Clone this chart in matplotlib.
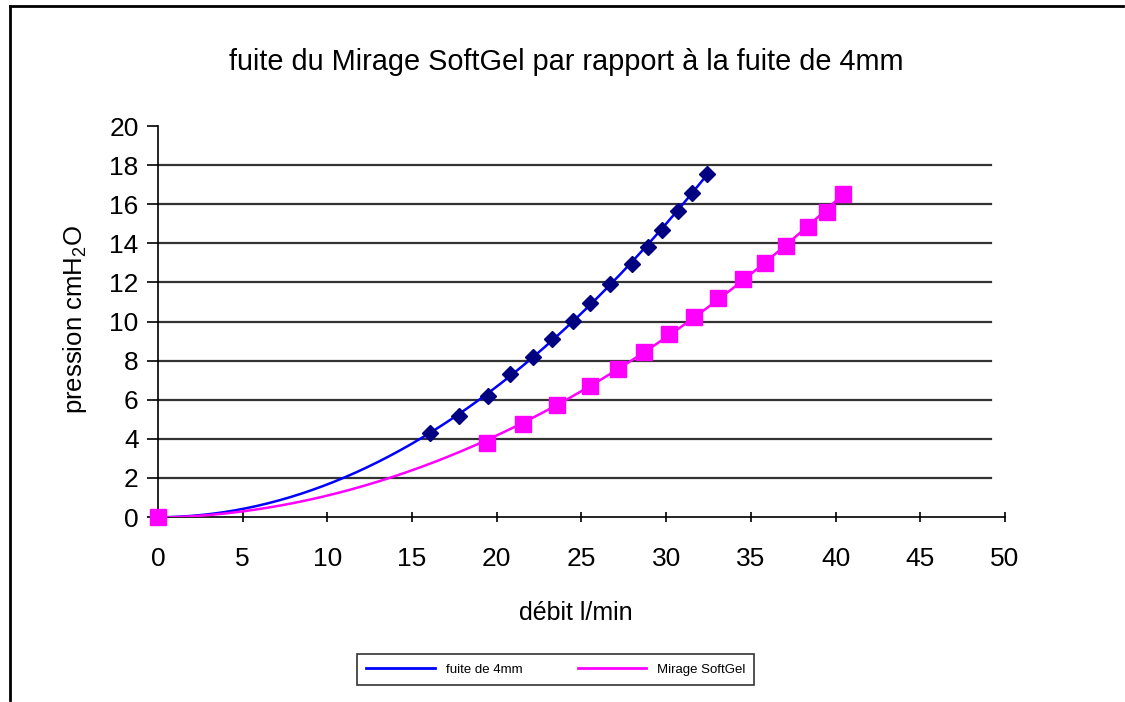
import numpy as np
import matplotlib
matplotlib.use('Agg')
import matplotlib.pyplot as plt
from matplotlib.lines import Line2D

plt.rcParams['font.family'] = ['Liberation Sans', 'DejaVu Sans']
plt.rcParams['mathtext.fontset'] = 'custom'
plt.rcParams['mathtext.rm'] = 'Liberation Sans'

# data (débit l/min, pression cmH2O)
debit_4mm = [0, 16.05, 17.76, 19.47, 20.77, 22.12, 23.24, 24.48, 25.49, 26.67,
             27.96, 28.91, 29.73, 30.68, 31.50, 32.39]
pression_4mm = [0, 4.30, 5.17, 6.19, 7.31, 8.18, 9.10, 10.03, 10.95, 11.92,
                12.94, 13.81, 14.68, 15.65, 16.57, 17.54]

debit_mirage = [0, 19.41, 21.53, 23.54, 25.49, 27.14, 28.67, 30.15, 31.62,
                33.04, 34.51, 35.81, 37.05, 38.35, 39.47, 40.41]
pression_mirage = [0, 3.79, 4.76, 5.73, 6.70, 7.57, 8.44, 9.36, 10.23,
                   11.20, 12.17, 12.99, 13.86, 14.83, 15.60, 16.52]

xticks = [0, 5, 10, 15, 20, 25, 30, 35, 40, 45, 50]
yticks = [0, 2, 4, 6, 8, 10, 12, 14, 16, 18, 20]

fig = plt.figure(figsize=(11.25, 7.02), dpi=100)
ax = fig.add_axes([0.1404, 0.2635, 0.7529, 0.557])

# polynomial trend curves (like the Excel trendlines), from the points above
for xs, ys, col in [(debit_4mm, pression_4mm, '#0000FF'),
                    (debit_mirage, pression_mirage, '#FF00FF')]:
    coef = np.polyfit(xs, ys, 2)
    xx = np.linspace(0, max(xs), 200)
    ax.plot(xx, np.polyval(coef, xx), color=col, lw=1.8, zorder=3)

ax.plot(debit_4mm, pression_4mm, ls='none', marker='D', ms=8,
        color='#000080', zorder=4, clip_on=False)
ax.plot(debit_mirage, pression_mirage, ls='none', marker='s', ms=11,
        color='#FF00FF', zorder=5, clip_on=False)

# horizontal grid (none at the top value)
for y in yticks[1:-1]:
    ax.axhline(y, xmin=0, xmax=0.983, color='#333333', lw=1.6, zorder=1)

ax.set_xlim(0, 50)
ax.set_ylim(0, 20)
ax.set_xticks(xticks)
ax.set_yticks(yticks)
ax.tick_params(axis='both', labelsize=19, colors='black')
ax.tick_params(axis='y', direction='out', length=8, width=1.2, pad=6)
ax.tick_params(axis='x', direction='inout', length=7, width=1.2, pad=18)
for s in ['top', 'right']:
    ax.spines[s].set_visible(False)
for s in ['left', 'bottom']:
    ax.spines[s].set_linewidth(1.2)

fig.text(0.503, 0.912, 'fuite du Mirage SoftGel par rapport à la fuite de 4mm',
         ha='center', va='center', fontsize=20.8)
fig.text(0.512, 0.127, 'débit l/min', ha='center', va='center', fontsize=18)
fig.text(0.067, 0.545, r'pression cmH$_\mathregular{2}$O', ha='center',
         va='center', rotation=90, fontsize=18.5)

handles = [Line2D([], [], color='#0000FF', lw=2),
           Line2D([], [], color='#FF00FF', lw=2)]
leg = fig.legend(handles, ['fuite de 4mm', 'Mirage SoftGel'], ncol=2,
                 loc='center', bbox_to_anchor=(0.494, 0.046), fontsize=9.5,
                 frameon=True, fancybox=False, edgecolor='black',
                 handlelength=5.2, columnspacing=4.2, borderpad=0.7)
leg.get_frame().set_linewidth(1.2)

# outer chart frame (left and top visible)
fig.add_artist(Line2D([0.009, 0.009], [0.003, 0.992], color='black', lw=2))
fig.add_artist(Line2D([0.009, 0.998], [0.992, 0.992], color='black', lw=2))

fig.savefig('out.png', dpi=100)
